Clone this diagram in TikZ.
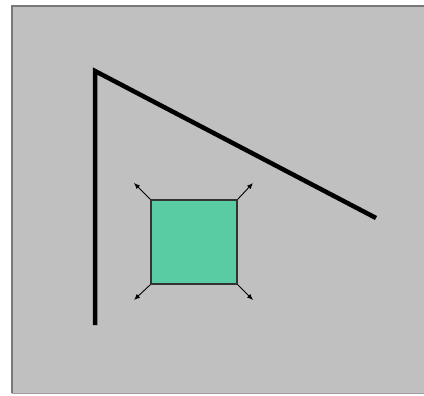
\documentclass[tikz,border=0pt]{standalone}
\usepackage{tikz}
\usetikzlibrary{arrows.meta,positioning,calc}
\definecolor{panelGray}{RGB}{192,192,192}
\definecolor{edgeGray}{RGB}{120,120,120}
\definecolor{boxTeal}{RGB}{90,204,164}

\begin{document}
\begin{tikzpicture}[x=1pt,y=-1pt,
        wall/.style={line width=4.5pt},
        box/.style={draw=black!80,fill=boxTeal,line width=1.2pt,minimum width=86pt,minimum height=84pt,inner sep=0pt},
        arrow/.style={-{Latex[length=6pt,width=5pt]},line width=0.9pt}
      ]
        \useasboundingbox (0,0) rectangle (424,396);
        % panel
        \fill[panelGray] (12,6) rectangle (426,393);
        \draw[edgeGray,line width=2pt] (12,393) -- (12,6) -- (426,6);
        \draw[edgeGray!70,line width=1pt] (12,393) -- (426,393);
        % walls
        \coordinate (corner) at (95,71);
        \draw[wall] (95,325) -- (corner) -- (376,218);
        % square and its corner arrows
        \node[box] (sq) at (194,242) {};
        \coordinate (nw) at (134,183);
        \coordinate (ne) at (253,183);
        \coordinate (sw) at (134,300);
        \coordinate (se) at (253,300);
        \draw[arrow] (sq.north west) -- (nw);
        \draw[arrow] (sq.north east) -- (ne);
        \draw[arrow] (sq.south west) -- (sw);
        \draw[arrow] (sq.south east) -- (se);
      \end{tikzpicture}
\end{document}
